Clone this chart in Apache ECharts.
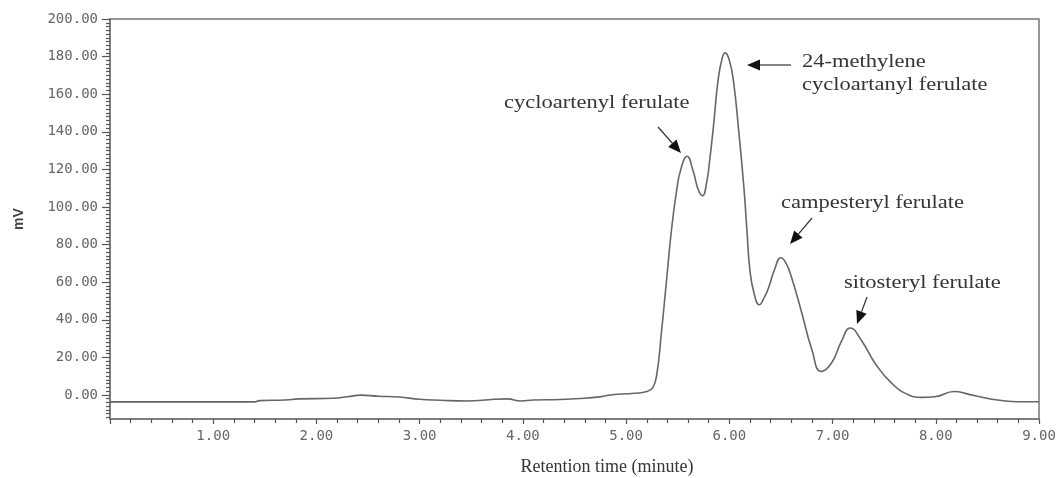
<!DOCTYPE html>
<html>
<head>
<meta charset="utf-8">
<script src="https://cdn.jsdelivr.net/npm/echarts@6/dist/echarts.min.js"></script>
<style>
html,body{margin:0;padding:0;background:#fff;}
#chart{width:1062px;height:478px;}
</style>
</head>
<body>
<div id="chart"></div>
<script>
// Retention time (minute) and signal (mV)
const retentionTime = [0, 0.5, 1.0, 1.4, 1.45, 1.7, 1.83, 2.16, 2.3, 2.43, 2.6, 2.8, 3.0, 3.2, 3.46, 3.72, 3.85, 3.98, 4.1, 4.36, 4.6, 4.76, 4.85, 5.08, 5.2, 5.26, 5.3, 5.34, 5.39, 5.44, 5.49, 5.53, 5.59, 5.65, 5.7, 5.74, 5.78, 5.81, 5.85, 5.89, 5.93, 5.96, 6.0, 6.04, 6.09, 6.14, 6.17, 6.2, 6.24, 6.29, 6.34, 6.38, 6.44, 6.5, 6.55, 6.6, 6.7, 6.8, 6.89, 6.99, 7.09, 7.17, 7.28, 7.41, 7.57, 7.74, 7.86, 7.99, 8.18, 8.32, 8.48, 8.64, 8.8, 9.0];
const signal = [-3.7, -3.7, -3.7, -3.7, -3.0, -2.7, -2.1, -1.8, -1.0, -0.1, -0.7, -1.1, -2.3, -2.8, -3.2, -2.3, -2.1, -3.2, -2.7, -2.4, -1.8, -0.9, 0.0, 0.9, 1.8, 4, 12, 32, 60, 88, 109, 120, 127, 119, 109, 106, 113, 125, 145, 167, 179, 182, 178, 167, 141, 111, 88, 66, 54, 48, 52, 57, 67, 73, 70, 63, 44, 24, 12.5, 17, 29, 35.6, 29, 17, 6.4, 0, -1.3, -1, 1.8, 0.3, -1.6, -3, -3.6, -3.6];
const yMajorTicks = [0, 20, 40, 60, 80, 100, 120, 140, 160, 180, 200];
const yMinorTicks = [-12, -10, -8, -6, -4, -2, 2, 4, 6, 8, 10, 12, 14, 16, 18, 22, 24, 26, 28, 30, 32, 34, 36, 38, 42, 44, 46, 48, 50, 52, 54, 56, 58, 62, 64, 66, 68, 70, 72, 74, 76, 78, 82, 84, 86, 88, 90, 92, 94, 96, 98, 102, 104, 106, 108, 110, 112, 114, 116, 118, 122, 124, 126, 128, 130, 132, 134, 136, 138, 142, 144, 146, 148, 150, 152, 154, 156, 158, 162, 164, 166, 168, 170, 172, 174, 176, 178, 182, 184, 186, 188, 190, 192, 194, 196, 198];
const peakLabels = ['cycloartenyl ferulate', '24-methylene', 'cycloartanyl ferulate', 'campesteryl ferulate', 'sitosteryl ferulate'];
const xAxisTitle = 'Retention time (minute)';
const yAxisTitle = 'mV';

const chart = echarts.init(document.getElementById('chart'), null, {renderer: 'canvas'});
const data = retentionTime.map((t, i) => [t, signal[i]]);

function arrow(tail, tip) {
  const dx = tip[0] - tail[0], dy = tip[1] - tail[1];
  const len = Math.sqrt(dx * dx + dy * dy);
  const ux = dx / len, uy = dy / len;
  const L = 13, w = 5.5;
  const bx = tip[0] - ux * L, by = tip[1] - uy * L;
  const nx = -uy, ny = ux;
  return [
    {type: 'line', shape: {x1: tail[0], y1: tail[1], x2: bx, y2: by}, style: {stroke: '#333', lineWidth: 1.2}, silent: true},
    {type: 'polygon', shape: {points: [[tip[0], tip[1]], [bx + nx * w, by + ny * w], [bx - nx * w, by - ny * w]]}, style: {fill: '#111'}, silent: true}
  ];
}

function label(text, x, y, sx) {
  return {
    type: 'text', x: x, y: y, scaleX: sx, silent: true,
    style: {text: text, fill: '#353535', font: '18px "Liberation Serif", "Times New Roman", serif', textAlign: 'left', textVerticalAlign: 'middle'}
  };
}

const axisGray = '#777';
const labelFont = {fontFamily: '"DejaVu Sans Mono", monospace', fontSize: 14, color: '#666'};

const option = {
  animation: false,
  backgroundColor: '#fff',
  grid: {left: 110, right: 23, top: 19, bottom: 59, containLabel: false, outerBoundsMode: 'none',
    show: true, borderColor: axisGray, borderWidth: 1.5, backgroundColor: 'transparent'},
  xAxis: {
    type: 'value', min: 0, max: 9, interval: 1,
    axisLine: {show: true, onZero: false, lineStyle: {color: axisGray, width: 1.5}},
    axisTick: {show: true, length: 5, lineStyle: {color: '#555', width: 1.2}},
    minorTick: {show: true, splitNumber: 5, length: 4, lineStyle: {color: '#555', width: 1.2}},
    splitLine: {show: false},
    axisLabel: Object.assign({margin: 10, showMinLabel: true, showMaxLabel: true,
      formatter: v => v === 0 ? '' : v.toFixed(2)}, labelFont)
  },
  yAxis: [{
    type: 'value', min: -12.8, max: 200,
    axisLine: {show: true, onZero: false, lineStyle: {color: axisGray, width: 1.5}},
    axisTick: {show: true, length: 8, customValues: yMajorTicks, lineStyle: {color: '#555', width: 1.2}},
    splitLine: {show: false},
    axisLabel: Object.assign({margin: 12, customValues: yMajorTicks,
      formatter: v => v.toFixed(2)}, labelFont),
    name: yAxisTitle, nameLocation: 'middle', nameGap: 84,
    nameTextStyle: {fontFamily: '"Liberation Sans", Arial, sans-serif', fontWeight: 'bold', fontSize: 14, color: '#444'}
  }, {
    type: 'value', min: -12.8, max: 200, position: 'left',
    axisLine: {show: false},
    axisTick: {show: true, length: 4, customValues: yMinorTicks, lineStyle: {color: '#555', width: 1.2}},
    axisLabel: {show: false},
    splitLine: {show: false}
  }],
  series: [{
    type: 'line', data: data, xAxisIndex: 0, yAxisIndex: 0,
    showSymbol: false, smooth: 0.5, clip: true,
    lineStyle: {color: '#666', width: 1.6}
  }],
  graphic: [
    {type: 'text', x: 607, y: 467, silent: true,
      style: {text: xAxisTitle, fill: '#353535', font: '18px "Liberation Serif", "Times New Roman", serif', textAlign: 'center', textVerticalAlign: 'middle'}},
    label(peakLabels[0], 504, 103, 1.25),
    label(peakLabels[1], 802, 62, 1.25),
    label(peakLabels[2], 802, 85, 1.25),
    label(peakLabels[3], 781, 203, 1.25),
    label(peakLabels[4], 844, 283, 1.25),
    ...arrow([658, 127], [681, 153]),
    ...arrow([791, 65], [747, 65]),
    ...arrow([812, 218], [790, 244]),
    ...arrow([867, 297], [857, 324])
  ]
};
chart.setOption(option);
</script>
</body>
</html>
